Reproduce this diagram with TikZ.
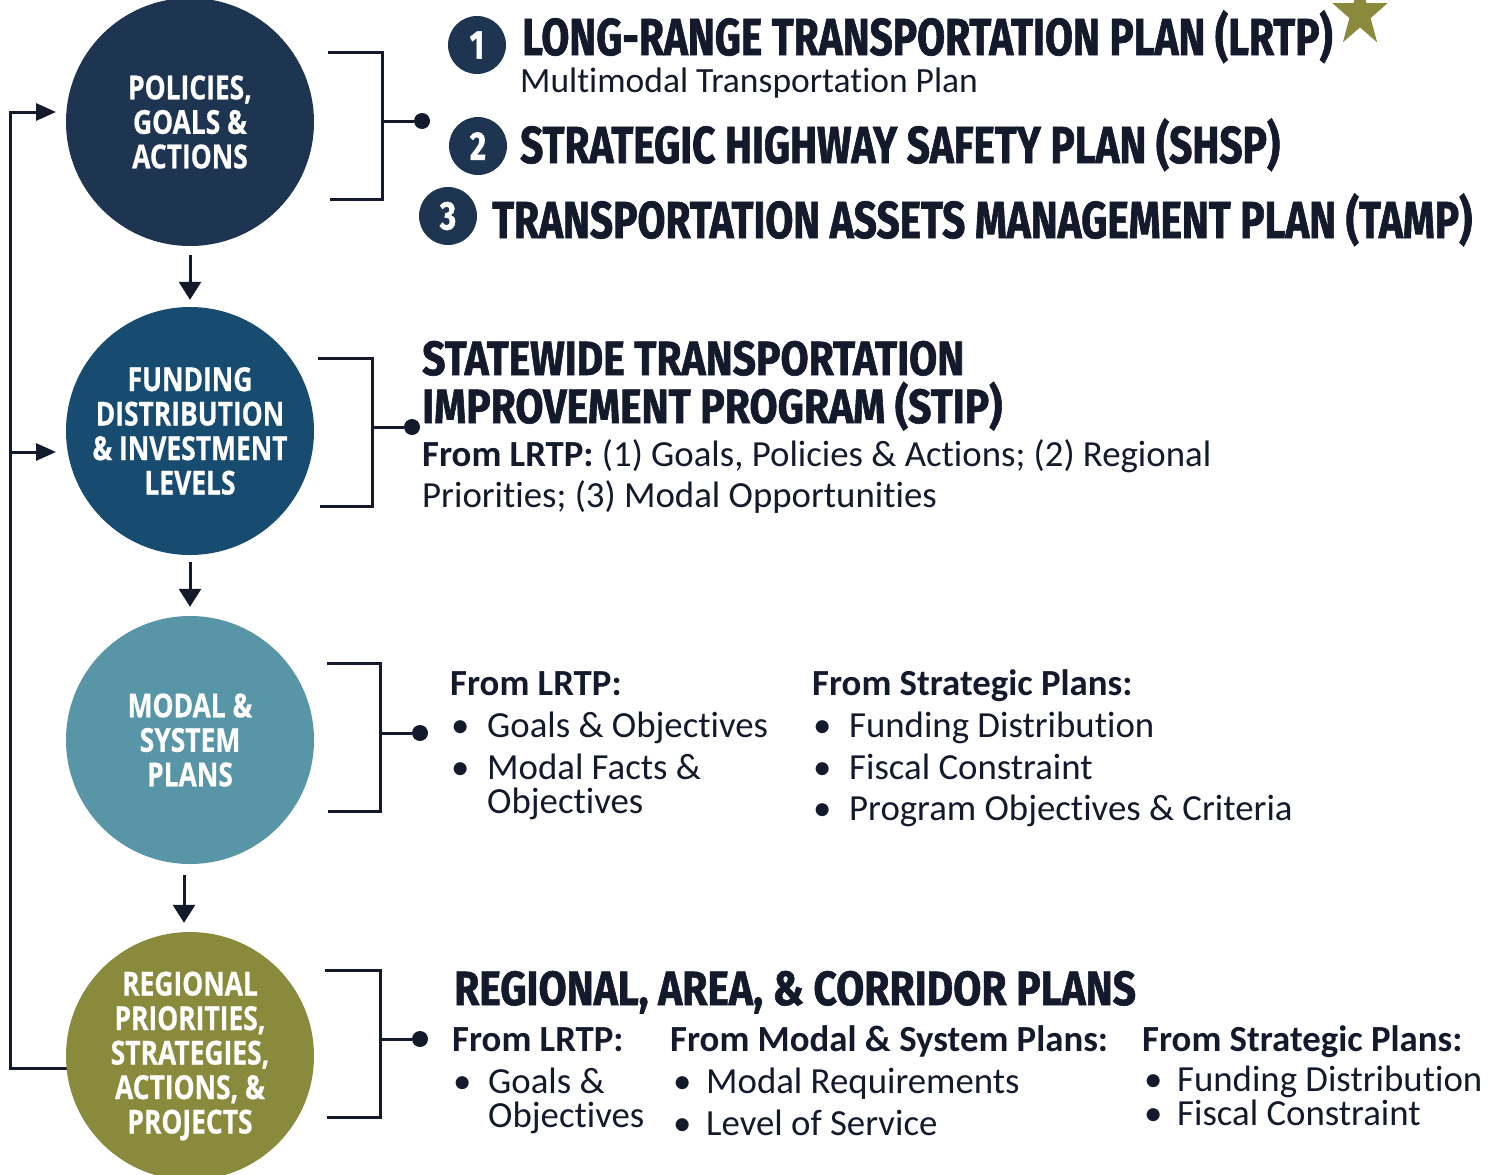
\documentclass[tikz,border=0pt]{standalone}
\usepackage{fontspec}
\setmainfont{Carlito}[Ligatures={NoCommon,NoRare}]
\newfontfamily\headfont[FakeStretch=0.78,FakeBold=1.2]{Fira Sans}
\newfontfamily\subheadfont[FakeStretch=0.85,FakeBold=1.2]{Fira Sans}
\newfontfamily\circfont[FakeStretch=0.8,FakeBold=0.6]{Open Sans}
\usetikzlibrary{arrows.meta}
\definecolor{ink}{HTML}{121A2B}
\definecolor{cnavy}{HTML}{1E3552}
\definecolor{cblue}{HTML}{174B6F}
\definecolor{cteal}{HTML}{5795A7}
\definecolor{colive}{HTML}{8A8A3D}
\newcommand\bul[1][36pt]{\makebox[#1][l]{\textbullet}}
\begin{document}
\begin{tikzpicture}[x=1pt,y=-1pt,
  bigcirc/.style={circle, minimum size=248pt, inner sep=0pt, text=white, align=center,
    font=\circfont\bfseries\fontsize{33}{34.5}\selectfont},
  head/.style={anchor=base west, inner sep=0pt, text=ink,
    font=\headfont\bfseries\fontsize{52}{52}\selectfont},
  subhead/.style={anchor=base west, inner sep=0pt, text=ink,
    font=\subheadfont\bfseries\fontsize{48}{48}\selectfont},
  body/.style={anchor=base west, inner sep=0pt, text=ink,
    font=\fontsize{36.8}{40}\selectfont},
  bodyb/.style={body, font=\fontsize{36.8}{40}\selectfont\bfseries},
  badge/.style={circle, fill=cnavy, minimum size=58pt, inner sep=0pt, text=white,
    font=\headfont\bfseries\fontsize{40}{40}\selectfont},
  dotnode/.style={circle, fill=ink, minimum size=16pt, inner sep=0pt},
  link/.style={draw=ink, line width=3pt},
  arr/.style={link, -{Triangle[width=22pt,length=18pt]}},
  sarr/.style={link, -{Triangle[width=17pt,length=20pt]}}]
\useasboundingbox (0,0) rectangle (1499,1175);

% feedback loop (drawn first, under circles)
\coordinate (fb0) at (120,1068);
\coordinate (fb1) at (10,1068);
\coordinate (fb2) at (10,112);
\coordinate (fbt1) at (56,112);
\coordinate (fbm) at (10,452);
\coordinate (fbt2) at (56,452);
\draw[link] (fb0) -- (fb1) -- (fb2);
\draw[sarr] ([xshift=-1.5pt]fb2) -- (fbt1);
\draw[sarr] (fbm) -- (fbt2);

% circles
\node[bigcirc, fill=cnavy] (c1) at (190,122) {POLICIES,\\GOALS \&\\ACTIONS};
\node[bigcirc, fill=cblue] (c2) at (190,431) {FUNDING\\DISTRIBUTION\\\& INVESTMENT\\LEVELS};
\node[bigcirc, fill=cteal] (c3) at (190,740) {MODAL \&\\SYSTEM\\PLANS};
\node[bigcirc, fill=colive] (c4) at (190,1056) {REGIONAL\\PRIORITIES,\\STRATEGIES,\\ACTIONS, \&\\PROJECTS};

% down arrows
\draw[arr, shorten <=9pt, shorten >=7pt] (c1.south) -- (c2.north);
\draw[arr, shorten <=7pt, shorten >=9pt] (c2.south) -- (c3.north);
\draw[arr, shorten <=11pt, shorten >=9pt] ([xshift=-6pt]c3.south) -- ([xshift=-6pt]c4.north);

% brackets
\coordinate (b1a) at (328,52);  \coordinate (b1b) at (382,52);
\coordinate (b1c) at (382,199); \coordinate (b1d) at (330,199);
\coordinate (b1m) at (382,121);
\node[dotnode] (d1) at (422,121) {};
\draw[link] (b1a) -- (b1b) -- (b1c) -- (b1d);
\draw[link] (b1m) -- (d1);

\coordinate (b2a) at (318,358); \coordinate (b2b) at (372,358);
\coordinate (b2c) at (372,506); \coordinate (b2d) at (320,506);
\coordinate (b2m) at (372,427);
\node[dotnode] (d2) at (412,427) {};
\draw[link] (b2a) -- (b2b) -- (b2c) -- (b2d);
\draw[link] (b2m) -- (d2);

\coordinate (b3a) at (327,663); \coordinate (b3b) at (380,663);
\coordinate (b3c) at (380,811); \coordinate (b3d) at (328,811);
\coordinate (b3m) at (380,733);
\node[dotnode] (d3) at (420,733) {};
\draw[link] (b3a) -- (b3b) -- (b3c) -- (b3d);
\draw[link] (b3m) -- (d3);

\coordinate (b4a) at (325,970); \coordinate (b4b) at (380,970);
\coordinate (b4c) at (380,1117); \coordinate (b4d) at (327,1117);
\coordinate (b4m) at (380,1039);
\node[dotnode] (d4) at (420,1039) {};
\draw[link] (b4a) -- (b4b) -- (b4c) -- (b4d);
\draw[link] (b4m) -- (d4);

% badges and star
\node[badge] (n1) at (477,45) {1};
\node[badge] (n2) at (478,146) {2};
\node[badge] (n3) at (448,216) {3};
\fill[colive] (1360,-21) -- (1353.5,3.2) -- (1332.4,3.2) -- (1349.4,18.1) -- (1342.9,42.3)
  -- (1360,27.4) -- (1377.1,42.3) -- (1370.6,18.1) -- (1387.6,3.2) -- (1366.5,3.2) -- cycle;

% top texts
\node[head, text depth=0pt] (t1) at (522,55) {LONG-RANGE TRANSPORTATION PLAN (LRTP)};
\node[body, font=\fontsize{35.5}{40}\selectfont] (t1s) at (520,92) {Multimodal Transportation Plan};
\node[head] (t2) at (520,163) {STRATEGIC HIGHWAY SAFETY PLAN (SHSP)};
\node[head] (t3) at (492,238) {TRANSPORTATION ASSETS MANAGEMENT PLAN (TAMP)};

% STIP
\node[subhead] (s1) at (422,375) {STATEWIDE TRANSPORTATION};
\node[subhead] (s2) at (422,423) {IMPROVEMENT PROGRAM (STIP)};
\node[body] (s3) at (422,466) {\textbf{From LRTP:} (1) Goals, Policies \& Actions; (2) Regional};
\node[body] (s4) at (422,507) {Priorities; (3) Modal Opportunities};

% modal
\node[bodyb] (m0) at (450,695) {From LRTP:};
\node[body] (m1) at (451,737) {\bul Goals \& Objectives};
\node[body] (m2) at (451,779) {\bul Modal Facts \&};
\node[body] (m3) at (487,813) {Objectives};
\node[bodyb] (m4) at (812,695) {From Strategic Plans:};
\node[body] (m5) at (813,737) {\bul Funding Distribution};
\node[body] (m6) at (813,779) {\bul Fiscal Constraint};
\node[body] (m7) at (813,820) {\bul Program Objectives \& Criteria};

% regional
\node[subhead] (r0) at (454,1005) {REGIONAL, AREA, \& CORRIDOR PLANS};
\node[bodyb] (r1) at (452,1051) {From LRTP:};
\node[body] (r2) at (453,1093) {\bul[35pt]Goals \&};
\node[body] (r3) at (488,1127) {Objectives};
\node[bodyb] (r4) at (670,1051) {From Modal \& System Plans:};
\node[body] (r5) at (673,1093) {\bul[33pt]Modal Requirements};
\node[body] (r6) at (673,1135) {\bul[33pt]Level of Service};
\node[bodyb] (r7) at (1142,1051) {From Strategic Plans:};
\node[body] (r8) at (1144,1091) {\bul[33pt]Funding Distribution};
\node[body] (r9) at (1144,1125) {\bul[33pt]Fiscal Constraint};
\end{tikzpicture}
\end{document}
